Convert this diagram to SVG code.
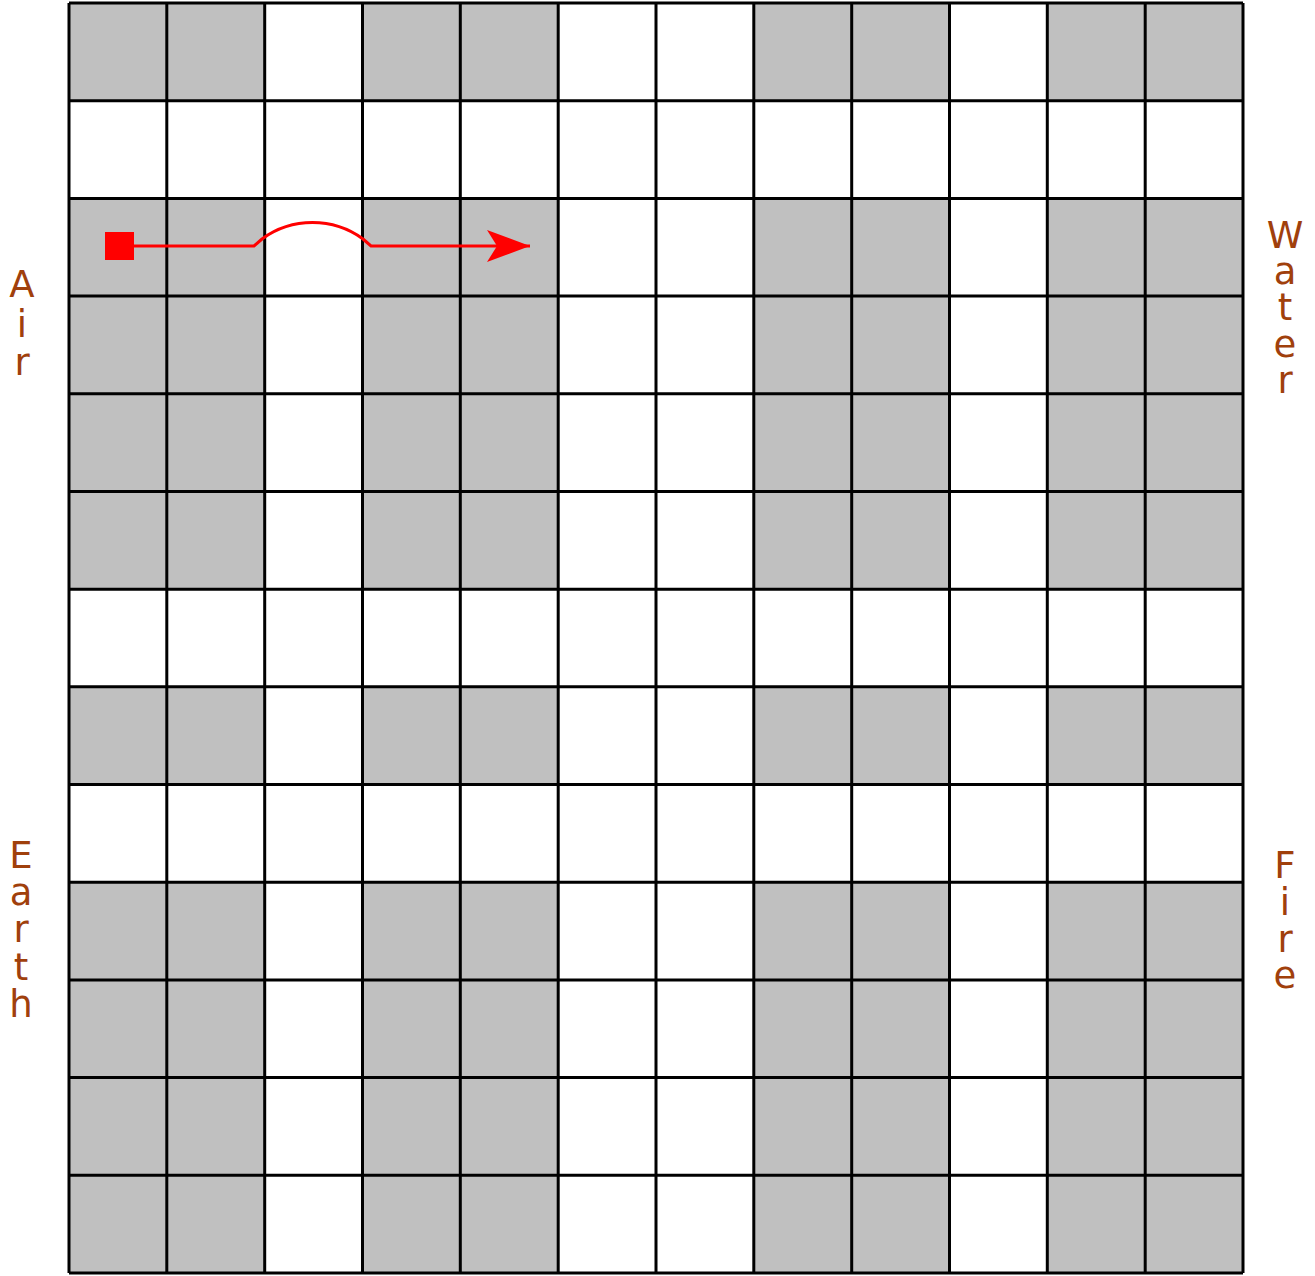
<svg xmlns="http://www.w3.org/2000/svg" width="1315" height="1276" viewBox="0 0 1315 1276">
<style>
.g{fill:#c0c0c0;stroke:none}
.grid{fill:none;stroke:#000;stroke-width:3}
.lbl{font-family:"DejaVu Sans",Verdana,sans-serif;font-size:37px;fill:#a0400c;text-anchor:middle}
.red{fill:none;stroke:#ff0000;stroke-width:3}
</style>
<defs>
<marker id="ah" markerUnits="userSpaceOnUse" markerWidth="50" markerHeight="40" refX="43" refY="16" orient="auto" viewBox="0 0 50 40">
<path d="M0,0 L43,16 L0,32 L10,16 Z" fill="#ff0000"/>
</marker>
</defs>
<rect width="1315" height="1276" fill="#fff"/>
<g id="cells">
<rect class="g" x="69" y="3" width="195.7" height="97.7"/>
<rect class="g" x="362.5" y="3" width="195.7" height="97.7"/>
<rect class="g" x="753.8" y="3" width="195.7" height="97.7"/>
<rect class="g" x="1047.3" y="3" width="195.7" height="97.7"/>
<rect class="g" x="69" y="198.4" width="195.7" height="390.8"/>
<rect class="g" x="362.5" y="198.4" width="195.7" height="390.8"/>
<rect class="g" x="753.8" y="198.4" width="195.7" height="390.8"/>
<rect class="g" x="1047.3" y="198.4" width="195.7" height="390.8"/>
<rect class="g" x="69" y="686.8" width="195.7" height="97.7"/>
<rect class="g" x="362.5" y="686.8" width="195.7" height="97.7"/>
<rect class="g" x="753.8" y="686.8" width="195.7" height="97.7"/>
<rect class="g" x="1047.3" y="686.8" width="195.7" height="97.7"/>
<rect class="g" x="69" y="882.2" width="195.7" height="390.8"/>
<rect class="g" x="362.5" y="882.2" width="195.7" height="390.8"/>
<rect class="g" x="753.8" y="882.2" width="195.7" height="390.8"/>
<rect class="g" x="1047.3" y="882.2" width="195.7" height="390.8"/>
</g>
<g id="grid">
<path class="grid" d="M69,3V1273M166.8,3V1273M264.7,3V1273M362.5,3V1273M460.3,3V1273M558.2,3V1273M656,3V1273M753.8,3V1273M851.7,3V1273M949.5,3V1273M1047.3,3V1273M1145.2,3V1273M1243,3V1273
M69,3H1243M69,100.7H1243M69,198.4H1243M69,296.1H1243M69,393.8H1243M69,491.5H1243M69,589.2H1243M69,686.8H1243M69,784.5H1243M69,882.2H1243M69,979.9H1243M69,1077.6H1243M69,1175.3H1243M69,1273H1243"/>
</g>
<g id="labels">
<text id="air" class="lbl"><tspan x="22" y="297">A</tspan><tspan x="22" y="337">i</tspan><tspan x="22" y="375">r</tspan></text>
<text id="water" class="lbl"><tspan x="1285" y="248">W</tspan><tspan x="1285" y="284">a</tspan><tspan x="1285" y="320">t</tspan><tspan x="1285" y="357">e</tspan><tspan x="1285" y="393">r</tspan></text>
<text id="earth" class="lbl"><tspan x="21" y="868">E</tspan><tspan x="21" y="905">a</tspan><tspan x="21" y="942">r</tspan><tspan x="21" y="980">t</tspan><tspan x="21" y="1017">h</tspan></text>
<text id="fire" class="lbl"><tspan x="1285" y="878">F</tspan><tspan x="1285" y="915">i</tspan><tspan x="1285" y="952">r</tspan><tspan x="1285" y="988">e</tspan></text>
</g>
<g id="connectors">
<rect id="start" x="105" y="232" width="29" height="28" fill="#ff0000"/>
<path class="red" marker-end="url(#ah)" d="M134,246 H254 L262,239 A86,86 0 0 1 363,239 L371,246 H530"/>
</g>
</svg>
